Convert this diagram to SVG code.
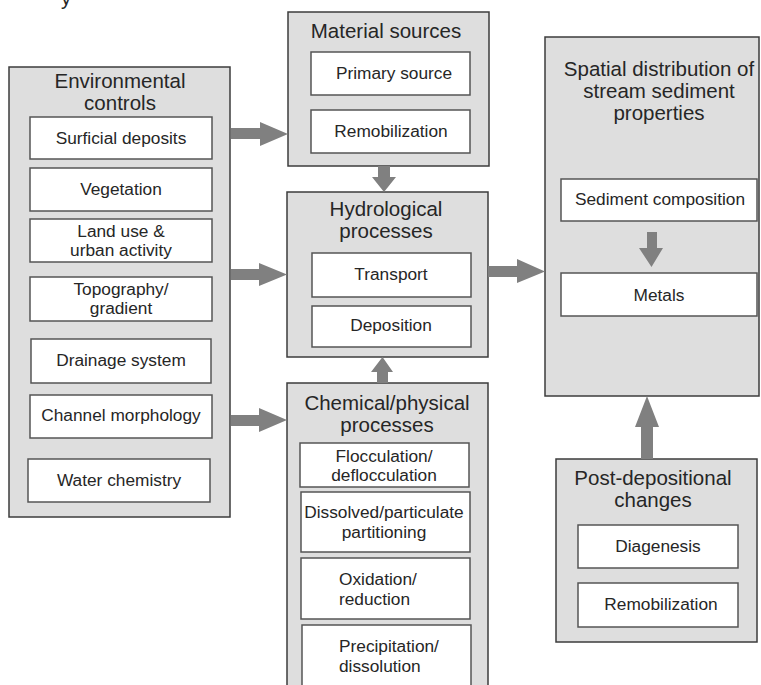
<svg xmlns="http://www.w3.org/2000/svg" width="761" height="685" viewBox="0 0 761 685">
<style>
.outer{fill:#dedede;stroke:#3c3c3c;stroke-width:1.5}
.inner{fill:#ffffff;stroke:#555555;stroke-width:1.5}
.t{font-family:"Liberation Sans",Arial,sans-serif;font-size:20.5px;fill:#262626;text-anchor:middle}
.s{font-family:"Liberation Sans",Arial,sans-serif;font-size:17.3px;fill:#262626;text-anchor:middle}
.l{text-anchor:start}
.arr{fill:#808080}
</style>
<rect width="761" height="685" fill="#ffffff"/>
<text class="t" x="66" y="5">y</text>

<g id="environmental-controls">
<rect class="outer" x="9" y="67" width="221" height="450"/>
<text class="t" x="120" y="88">Environmental</text>
<text class="t" x="120" y="110">controls</text>
<rect class="inner" x="30" y="117" width="182" height="42"/>
<text class="s" x="121" y="144">Surficial deposits</text>
<rect class="inner" x="30" y="168" width="182" height="43"/>
<text class="s" x="121" y="195">Vegetation</text>
<rect class="inner" x="30" y="219" width="182" height="43"/>
<text class="s" x="121" y="237">Land use &amp;</text>
<text class="s" x="121" y="256">urban activity</text>
<rect class="inner" x="30" y="277" width="182" height="44"/>
<text class="s" x="121" y="295">Topography/</text>
<text class="s" x="121" y="314">gradient</text>
<rect class="inner" x="31" y="339" width="180" height="44"/>
<text class="s" x="121" y="366">Drainage system</text>
<rect class="inner" x="30" y="395" width="182" height="43"/>
<text class="s" x="121" y="421">Channel morphology</text>
<rect class="inner" x="28" y="459" width="182" height="43"/>
<text class="s" x="119" y="486">Water chemistry</text>
</g>

<g id="material-sources">
<rect class="outer" x="288" y="12" width="201" height="154"/>
<text class="t" x="386" y="38">Material sources</text>
<rect class="inner" x="311" y="52" width="159" height="43"/>
<text class="s" x="394" y="79">Primary source</text>
<rect class="inner" x="311" y="110" width="159" height="43"/>
<text class="s" x="391" y="137">Remobilization</text>
</g>

<g id="hydrological-processes">
<rect class="outer" x="287" y="192" width="201" height="165"/>
<text class="t" x="386" y="216">Hydrological</text>
<text class="t" x="386" y="238">processes</text>
<rect class="inner" x="312" y="253" width="159" height="44"/>
<text class="s" x="391" y="280">Transport</text>
<rect class="inner" x="312" y="306" width="159" height="41"/>
<text class="s" x="391" y="331">Deposition</text>
</g>

<g id="chemical-physical-processes">
<rect class="outer" x="287" y="383" width="201" height="320"/>
<text class="t" x="387" y="410">Chemical/physical</text>
<text class="t" x="387" y="432">processes</text>
<rect class="inner" x="300" y="443" width="169" height="44"/>
<text class="s" x="384" y="462">Flocculation/</text>
<text class="s" x="384" y="481">deflocculation</text>
<rect class="inner" x="301" y="492" width="169" height="60"/>
<text class="s" x="384" y="518">Dissolved/particulate</text>
<text class="s" x="384" y="538">partitioning</text>
<rect class="inner" x="301" y="558" width="169" height="61"/>
<text class="s l" x="339" y="585">Oxidation/</text>
<text class="s l" x="339" y="605">reduction</text>
<rect class="inner" x="302" y="625" width="169" height="80"/>
<text class="s l" x="339" y="652">Precipitation/</text>
<text class="s l" x="339" y="672">dissolution</text>
</g>

<g id="spatial-distribution">
<rect class="outer" x="545" y="37" width="214" height="359"/>
<text class="t" x="659" y="76">Spatial distribution of</text>
<text class="t" x="659" y="98">stream sediment</text>
<text class="t" x="659" y="120">properties</text>
<rect class="inner" x="561" y="179" width="196" height="42"/>
<text class="s" x="660" y="205">Sediment composition</text>
<rect class="inner" x="561" y="273" width="196" height="43"/>
<text class="s" x="659" y="301">Metals</text>
</g>

<g id="post-depositional-changes">
<rect class="outer" x="556" y="459" width="201" height="183"/>
<text class="t" x="653" y="485">Post-depositional</text>
<text class="t" x="653" y="507">changes</text>
<rect class="inner" x="578" y="525" width="160" height="43"/>
<text class="s" x="658" y="552">Diagenesis</text>
<rect class="inner" x="578" y="583" width="160" height="44"/>
<text class="s" x="661" y="610">Remobilization</text>
</g>

<g id="connectors">
<polygon class="arr" points="231,128 260,128 260,122 288,134 260,146 260,139 231,139"/>
<polygon class="arr" points="231,269 259,269 259,263 287,274.5 259,286 259,280 231,280"/>
<polygon class="arr" points="231,415 259,415 259,408 287,420 259,432 259,426 231,426"/>
<polygon class="arr" points="378,166 390,166 390,177 396,177 384,192 372,177 378,177"/>
<polygon class="arr" points="377,383 388,383 388,372 393,372 382.5,357 371,372 377,372"/>
<polygon class="arr" points="488,266 517,266 517,259 545,271.5 517,283 517,277 488,277"/>
<polygon class="arr" points="647,232 657,232 657,248 663,248 651.5,267 639,248 647,248"/>
<polygon class="arr" points="641,459 653,459 653,427 659,427 647,396 635,427 641,427"/>
</g>
</svg>
